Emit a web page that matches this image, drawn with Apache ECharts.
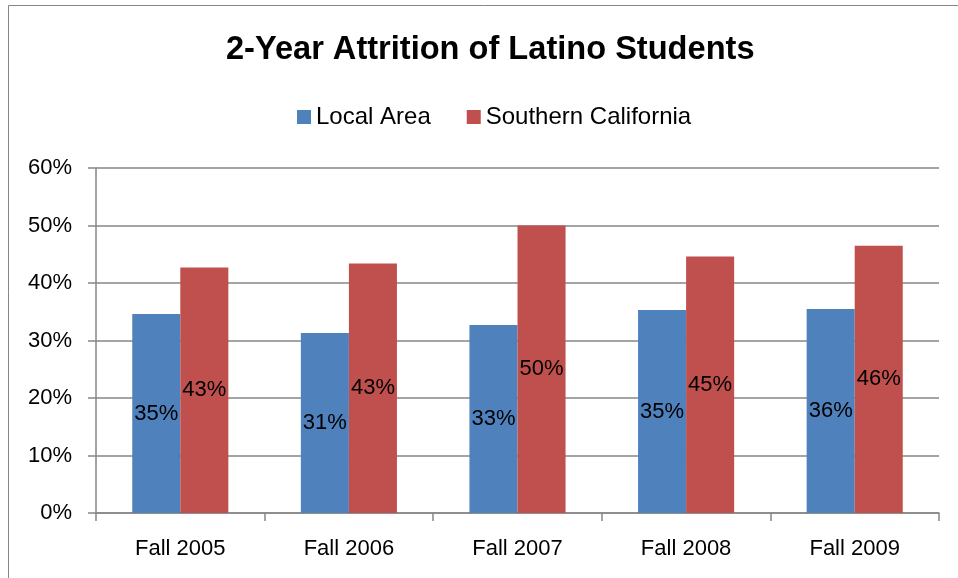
<!DOCTYPE html>
<html>
<head>
<meta charset="utf-8">
<script src="https://cdn.jsdelivr.net/npm/echarts@6/dist/echarts.min.js"></script>
<style>
html,body{margin:0;padding:0;background:#fff;}
#chart{width:958px;height:578px;}
</style>
</head>
<body>
<div id="chart"></div>
<script>
const categories = ['Fall 2005', 'Fall 2006', 'Fall 2007', 'Fall 2008', 'Fall 2009'];
const localArea = [34.6, 31.3, 32.7, 35.3, 35.5];
const localLabels = ['35%', '31%', '33%', '35%', '36%'];
const southernCalifornia = [42.7, 43.4, 50.0, 44.6, 46.5];
const socalLabels = ['43%', '43%', '50%', '45%', '46%'];
const seriesNames = ['Local Area', 'Southern California'];
const titleText = '2-Year Attrition of Latino Students';

const FONT = 'Liberation Sans, Arial, sans-serif';
const chart = echarts.init(document.getElementById('chart'), null, {renderer: 'canvas'});
chart.setOption({
  animation: false,
  backgroundColor: '#fff',
  graphic: [{
    type: 'rect',
    shape: {x: 8.5, y: 5.5, width: 1000, height: 700},
    style: {fill: 'none', stroke: '#868686', lineWidth: 1},
    silent: true
  }],
  title: {
    text: titleText,
    left: 221,
    top: 29,
    textStyle: {fontFamily: FONT, fontSize: 32.6, fontWeight: 'bold', color: '#000'}
  },
  legend: {
    data: seriesNames,
    top: 100,
    left: 292,
    itemWidth: 14,
    itemHeight: 14,
    itemGap: 36,
    icon: 'rect',
    textStyle: {fontFamily: FONT, fontSize: 24, color: '#000'}
  },
  grid: {left: 96, right: 19, top: 168, bottom: 65, containLabel: false},
  xAxis: {
    type: 'category',
    data: categories,
    axisLine: {lineStyle: {color: '#868686', width: 1.5}},
    axisTick: {show: true, length: 8, alignWithLabel: false, lineStyle: {color: '#868686', width: 1.5}},
    axisLabel: {fontFamily: FONT, fontSize: 22, color: '#000', margin: 25}
  },
  yAxis: {
    type: 'value',
    min: 0,
    max: 60,
    interval: 10,
    axisLine: {show: true, lineStyle: {color: '#868686', width: 1.5}},
    axisTick: {show: true, length: 8, lineStyle: {color: '#868686', width: 1.5}},
    splitLine: {lineStyle: {color: '#868686', width: 1.5}},
    axisLabel: {fontFamily: FONT, fontSize: 22, color: '#000', margin: 24, formatter: v => v + '%'}
  },
  series: [
    {
      name: seriesNames[0],
      type: 'bar',
      data: localArea,
      barWidth: '28.5%',
      barGap: '0%',
      itemStyle: {color: '#4F81BD'},
      label: {show: true, position: 'inside', fontFamily: FONT, fontSize: 22, color: '#000',
        formatter: p => localLabels[p.dataIndex]}
    },
    {
      name: seriesNames[1],
      type: 'bar',
      data: southernCalifornia,
      barWidth: '28.5%',
      barGap: '0%',
      itemStyle: {color: '#C0504D'},
      label: {show: true, position: 'inside', fontFamily: FONT, fontSize: 22, color: '#000',
        formatter: p => socalLabels[p.dataIndex]}
    }
  ]
});
</script>
</body>
</html>
